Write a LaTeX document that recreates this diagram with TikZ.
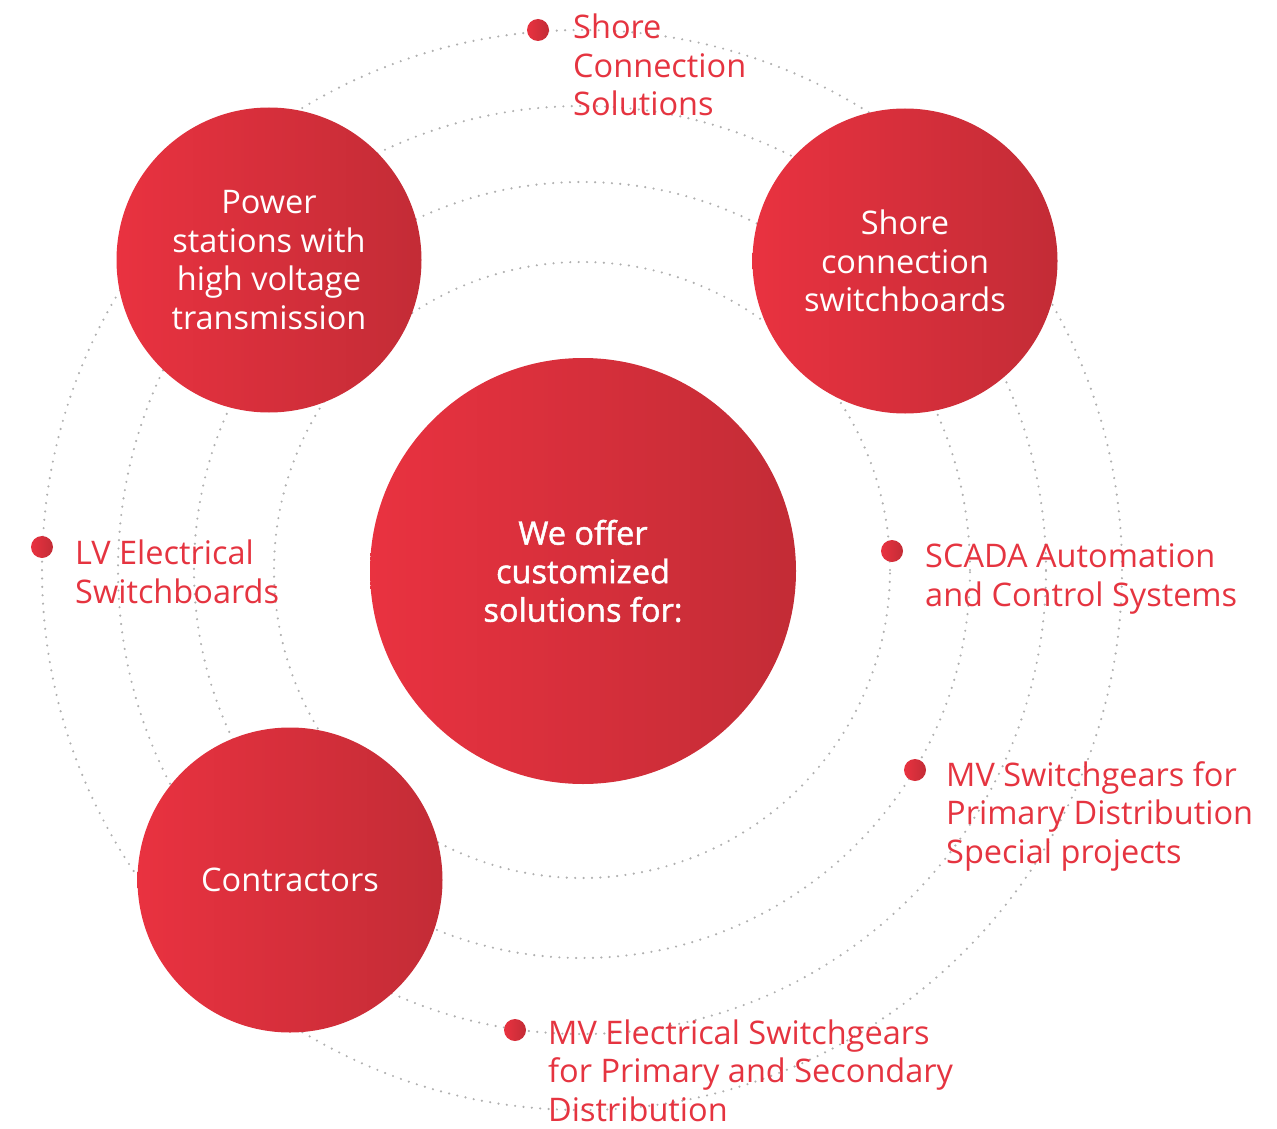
\documentclass[tikz,border=0pt]{standalone}
\usepackage{fontspec}
\setmainfont{Open Sans}
\newfontfamily\semifont{Open Sans}[FakeBold=1.4]
\definecolor{redL}{RGB}{233,50,64}
\definecolor{redR}{RGB}{195,44,54}
\definecolor{labelred}{RGB}{229,52,64}
\definecolor{ringgray}{RGB}{176,176,176}
\tikzset{
  ring/.style={draw=ringgray, line width=2.4pt, line cap=round, dash pattern=on 0pt off 8.4pt},
  disc/.style={circle, inner sep=0pt, minimum size=#1, left color=redL, right color=redR,
    text=white, align=center, font=\fontsize{32.5}{38.5}\selectfont},
  marker/.style={circle, inner sep=0pt, minimum size=22pt, left color=redL, right color=redR},
  % captions are anchored at the baseline of their last line
  itemtext/.style={anchor=base west, inner sep=0pt, align=left, text=labelred,
    font=\fontsize{32.5}{38.5}\selectfont},
}
\begin{document}
\begin{tikzpicture}[x=1pt,y=-1pt]
  \useasboundingbox (0,0) rectangle (1277,1129);
  \coordinate (hub) at (582,570);
  % dotted orbits
  \foreach \r in {308,388,464,540}
    \draw[ring] (hub) circle[radius=\r pt];
  % central disc and the three satellites
  \node[disc=426pt] (core) at (583,571) {{\semifont We offer}\\{\semifont customized}\\{\semifont solutions for:}};
  \node[disc=305pt] (power) at (269,260) {Power\\stations with\\high voltage\\transmission};
  \node[disc=305pt] (shoresw) at (905,261) {Shore\\connection\\switchboards};
  \node[disc=305pt] (contr) at (290,880) {Contractors};
  % markers on the orbits
  \node[marker] (m1) at (538,30) {};
  \node[marker] (m2) at (42,547) {};
  \node[marker] (m3) at (892,551) {};
  \node[marker] (m4) at (915,770) {};
  \node[marker] (m5) at (515,1030) {};
  % marker captions
  \node[itemtext] (t1) at (573,116) {Shore\\Connection\\Solutions};
  \node[itemtext] (t2) at (75,603) {LV Electrical\\Switchboards};
  \node[itemtext] (t3) at (925,606) {SCADA Automation\\and Control Systems};
  \node[itemtext] (t4) at (946,863) {MV Switchgears for\\Primary Distribution\\Special projects};
  \node[itemtext] (t5) at (548,1121) {MV Electrical Switchgears\\for Primary and Secondary\\Distribution};
\end{tikzpicture}
\end{document}
